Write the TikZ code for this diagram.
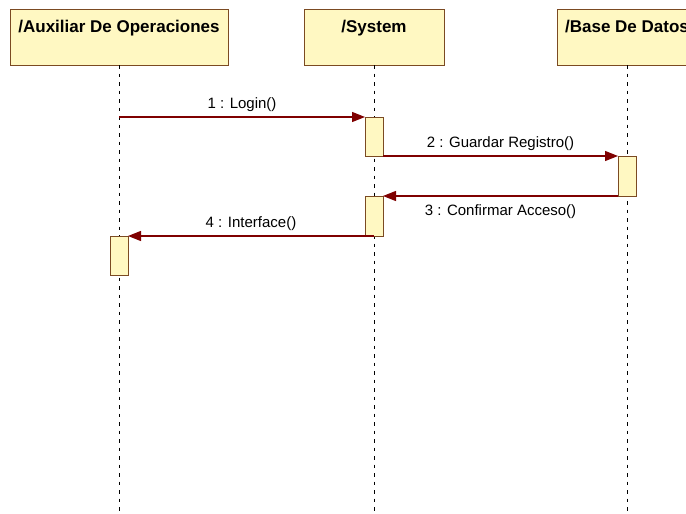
\documentclass[tikz,border=0pt]{standalone}
\usepackage{fontspec}
\setmainfont{Liberation Sans}
\usetikzlibrary{arrows.meta, positioning}
\definecolor{relleno}{HTML}{FFF8C2}
\definecolor{borde}{HTML}{7B4A22}
\definecolor{flecha}{HTML}{7F0000}

\begin{document}
\begin{tikzpicture}[x=1pt, y=-1pt,
    objeto/.style={draw=borde, fill=relleno, line width=1pt, anchor=north,
      minimum width=140pt, inner ysep=0pt, outer sep=0pt, text height=23pt,
      text depth=33pt, font=\bfseries\fontsize{17}{20}\selectfont},
    activo/.style={draw=borde, fill=relleno, line width=1pt, anchor=north,
      minimum width=18pt, inner sep=0pt, outer sep=0pt},
    vida/.style={line width=1pt, dash pattern=on 3.5pt off 5pt},
    mensaje/.style={draw=flecha, line width=1.2pt,
      -{Triangle[length=13pt, width=10pt]}},
    etiqueta/.style={font=\fontsize{15}{18}\selectfont, inner sep=5pt}]
      \useasboundingbox (0,0) rectangle (686,514);

      % Objetos
      \node[objeto, minimum width=218pt] (aux) at (119,9) {/Auxiliar De Operaciones};
      \node[objeto] (sys) at (374,9) {/System};
      \node[objeto] (bd) at (627,9) {/Base De Datos};

      % Lineas de vida
      \foreach \o in {aux, sys, bd}
        \draw[vida] (\o.south) -- (\o.south |- 0,514);

      % Activaciones
      \node[activo, minimum height=39pt] (a1) at (374,117) {};
      \node[activo, minimum height=40pt] (a2) at (627,156) {};
      \node[activo, minimum height=40pt] (a3) at (374,196) {};
      \node[activo, minimum height=39pt] (a4) at (119,236) {};

      % Mensajes
      \draw[mensaje] (aux.south |- a1.north) -- node[etiqueta, above] {1 : Login()} (a1.north west);
      \draw[mensaje] (a1.south east) -- node[etiqueta, above] {2 : Guardar Registro()} (a2.north west);
      \draw[mensaje] (a2.south west) -- node[etiqueta, below, yshift=-3pt] {3 : Confirmar Acceso()} (a3.north east);
      \draw[mensaje] (a3.south) -- node[etiqueta, above] {4 : Interface()} (a4.north east);
    \end{tikzpicture}
\end{document}
